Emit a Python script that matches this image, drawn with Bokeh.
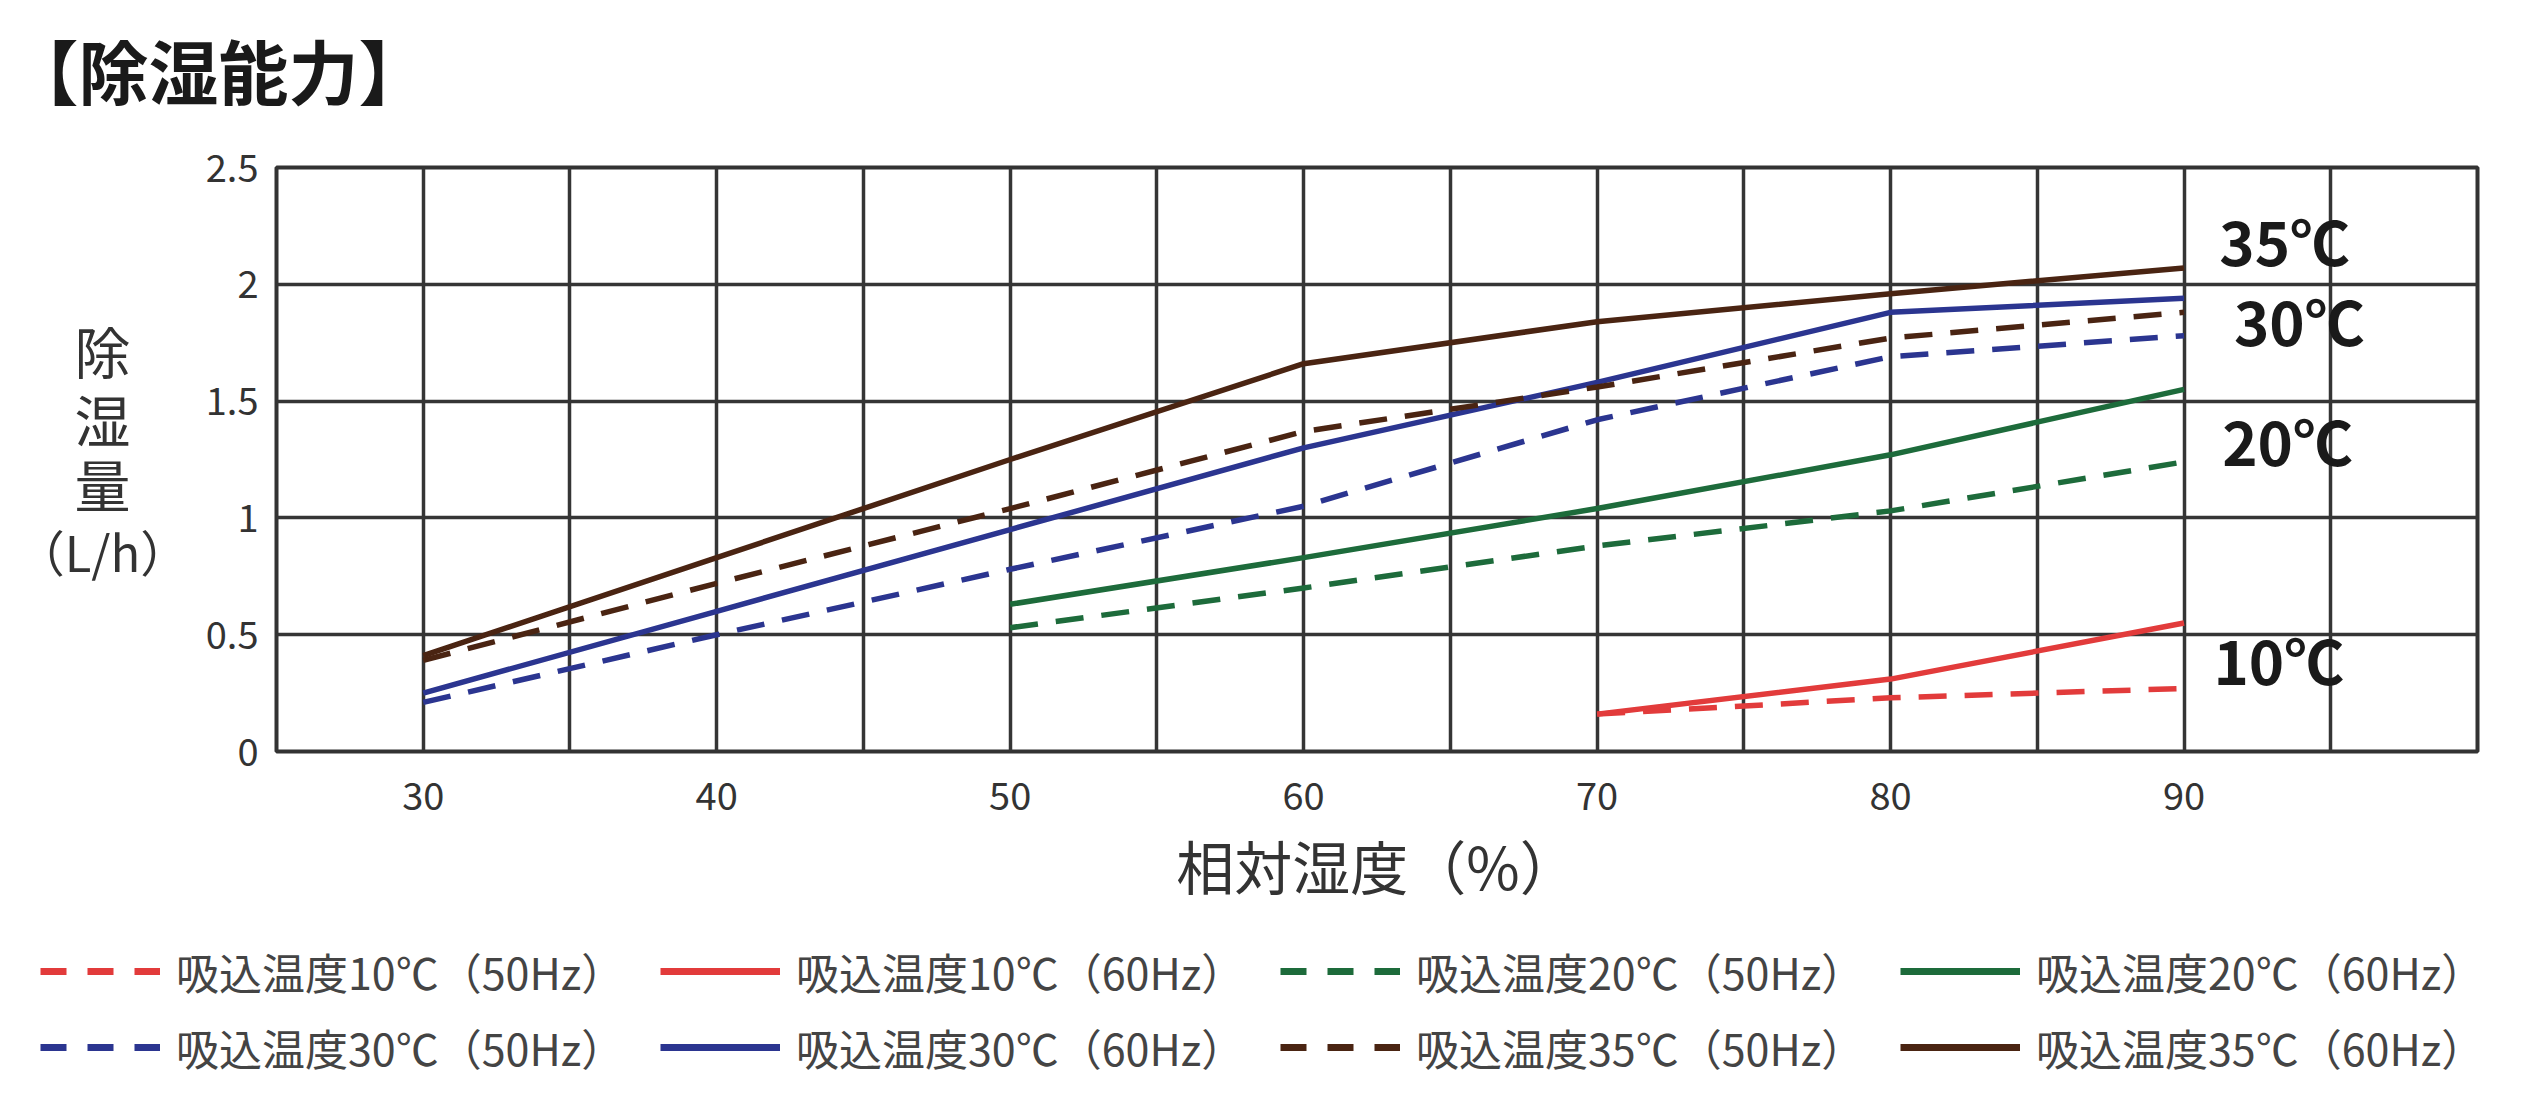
from bokeh.plotting import figure
from bokeh.layouts import column, row
from bokeh.models import Range1d, FixedTicker, NumeralTickFormatter, Label, Legend, LegendItem
from bokeh.embed import file_html
from bokeh.resources import INLINE

# ---- data ----
humidity_35_30 = [30, 40, 50, 60, 70, 80, 90]
humidity_20 = [50, 60, 70, 80, 90]
humidity_10 = [70, 80, 90]

t35_60hz = [0.41, 0.83, 1.25, 1.66, 1.84, 1.96, 2.07]
t35_50hz = [0.39, 0.72, 1.04, 1.37, 1.56, 1.77, 1.88]
t30_60hz = [0.25, 0.60, 0.95, 1.30, 1.58, 1.88, 1.94]
t30_50hz = [0.21, 0.50, 0.78, 1.05, 1.42, 1.69, 1.78]
t20_60hz = [0.63, 0.83, 1.04, 1.27, 1.55]
t20_50hz = [0.53, 0.70, 0.88, 1.03, 1.24]
t10_60hz = [0.16, 0.31, 0.55]
t10_50hz = [0.16, 0.23, 0.27]

series_names = [
    "吸込温度10℃（50Hz）", "吸込温度10℃（60Hz）",
    "吸込温度20℃（50Hz）", "吸込温度20℃（60Hz）",
    "吸込温度30℃（50Hz）", "吸込温度30℃（60Hz）",
    "吸込温度35℃（50Hz）", "吸込温度35℃（60Hz）",
]
x_ticks = [30, 40, 50, 60, 70, 80, 90]
x_grid = [30, 35, 40, 45, 50, 55, 60, 65, 70, 75, 80, 85, 90, 95]
y_ticks = [0, 0.5, 1, 1.5, 2, 2.5]
y_grid = [0.5, 1, 1.5, 2]

temp_labels = ["35℃", "30℃", "20℃", "10℃"]
temp_label_x = [91.2, 91.7, 91.3, 91.0]
temp_label_y = [2.19, 1.85, 1.335, 0.40]

title_text = "【除湿能力】"
y_label_lines = ["除", "湿", "量", "（L/h）"]
x_label_text = "相対湿度（%）"

FONT = "Noto Sans CJK JP"
RED = "#e23b3b"
GREEN = "#1d6b3b"
BLUE = "#2b3590"
BROWN = "#4a2412"
DASH = "28 18"

W = 2542
HEAD_H, MAIN_H, LEG_H = 120, 815, 165
YLAB_W = 200


def bare(width, height, xr, yr):
    f = figure(width=width, height=height, output_backend="svg", toolbar_location=None,
               x_range=Range1d(*xr), y_range=Range1d(*yr),
               x_axis_location=None, y_axis_location=None,
               min_border=0, min_border_left=0, min_border_right=0,
               min_border_top=0, min_border_bottom=0)
    f.grid.visible = False
    f.outline_line_color = None
    f.background_fill_color = "white"
    f.border_fill_color = "white"
    return f


# ---- header (title) ----
head = bare(W, HEAD_H, (0, W), (0, HEAD_H))
head.add_layout(Label(x=8, y=HEAD_H - 69, text=title_text, text_font=FONT,
                      text_font_size="70px", text_font_style="bold", text_color="#1a1a1a",
                      text_align="left", text_baseline="middle"))

# ---- y label column (its frame lines up with the chart frame, same value scale) ----
ylab = bare(YLAB_W, MAIN_H, (0, YLAB_W), (0, 2.5))
ylab_y = [1.72, 1.43, 1.15, 0.86]
ylab_sizes = ["56px", "56px", "56px", "49px"]
for t, yy, fs in zip(y_label_lines, ylab_y, ylab_sizes):
    ylab.add_layout(Label(x=102, y=yy, text=t, text_font=FONT, text_font_size=fs,
                          text_color="#333333", text_align="center", text_baseline="middle"))

# ---- main chart ----
p = figure(width=W - YLAB_W, height=MAIN_H, output_backend="svg", toolbar_location=None,
           x_range=Range1d(25, 100), y_range=Range1d(0, 2.5),
           min_border_left=76, min_border_right=65, min_border_top=47, min_border_bottom=184)
p.background_fill_color = "white"
p.border_fill_color = "white"
p.outline_line_color = "#333333"
p.outline_line_width = 4

p.xaxis.ticker = FixedTicker(ticks=x_ticks)
p.yaxis.ticker = FixedTicker(ticks=y_ticks)
p.yaxis.formatter = NumeralTickFormatter(format="0.[0]")
p.xgrid.ticker = FixedTicker(ticks=x_grid)
p.ygrid.ticker = FixedTicker(ticks=y_grid)
for g in (p.xgrid, p.ygrid):
    g.grid_line_color = "#353535"
    g.grid_line_width = 3.5
for ax in (p.xaxis, p.yaxis):
    ax.axis_line_color = None
    ax.major_tick_line_color = None
    ax.minor_tick_line_color = None
    ax.major_label_text_font = FONT
    ax.major_label_text_font_size = "38px"
    ax.major_label_text_color = "#333333"
p.xaxis.major_label_standoff = 24
p.yaxis.major_label_standoff = 12
p.xaxis.axis_label = x_label_text
p.xaxis.axis_label_text_font = FONT
p.xaxis.axis_label_text_font_size = "58px"
p.xaxis.axis_label_text_font_style = "normal"
p.xaxis.axis_label_text_color = "#333333"
p.xaxis.axis_label_standoff = 10

LW = 5.5
specs = [
    (humidity_10, t10_50hz, RED, DASH),
    (humidity_10, t10_60hz, RED, "solid"),
    (humidity_20, t20_50hz, GREEN, DASH),
    (humidity_20, t20_60hz, GREEN, "solid"),
    (humidity_35_30, t30_50hz, BLUE, DASH),
    (humidity_35_30, t30_60hz, BLUE, "solid"),
    (humidity_35_30, t35_50hz, BROWN, DASH),
    (humidity_35_30, t35_60hz, BROWN, "solid"),
]
for xs, ys, col, dash in specs:
    p.line(xs, ys, line_color=col, line_width=LW, line_dash=dash)

for t, tx, ty in zip(temp_labels, temp_label_x, temp_label_y):
    p.add_layout(Label(x=tx, y=ty, text=t, text_font=FONT, text_font_size="60px",
                       text_font_style="bold", text_color="#1a1a1a",
                       text_align="left", text_baseline="middle"))

# ---- legend strip (proxies hold the same series, outside this strip's visible range) ----
leg = bare(W, LEG_H, (0, 1), (0, 1))
items = []
for (xs, ys, col, dash), name in zip(specs, series_names):
    r = leg.line(xs, ys, line_color=col, line_width=7,
                 line_dash=("26 21" if dash != "solid" else "solid"))
    items.append(LegendItem(label=name, renderers=[r]))
legend = Legend(items=items, location=(40, 22), orientation="horizontal", ncols=4,
                glyph_width=120, glyph_height=40, label_height=40, label_width=470,
                label_standoff=16, spacing=14, padding=0, margin=0,
                border_line_color=None, background_fill_alpha=0,
                label_text_font=FONT, label_text_font_size="43px", label_text_color="#444444")
leg.add_layout(legend)

layout = column(head, row(ylab, p), leg)
open("out.html", "w").write(file_html(layout, INLINE))
